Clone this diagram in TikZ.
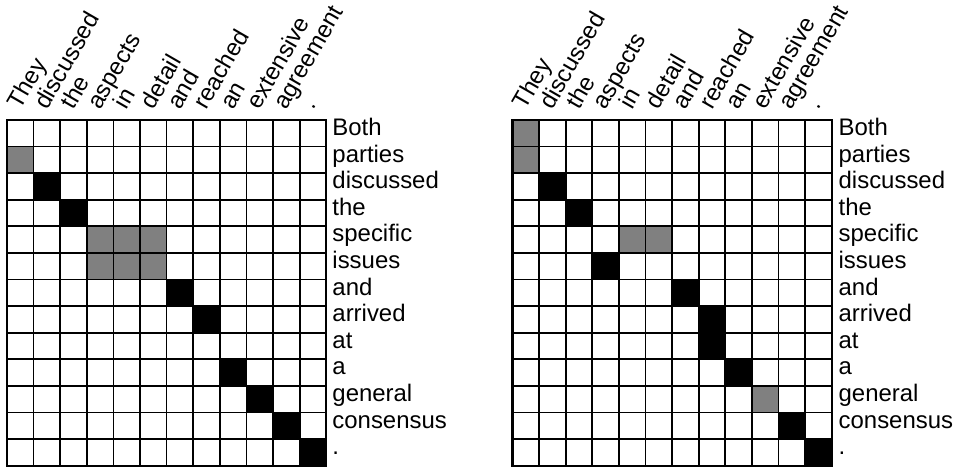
\documentclass[tikz,border=0pt]{standalone}
\usepackage{fontspec}
\setmainfont{Liberation Sans}
\usepackage{tikz}

\begin{document}
\begin{tikzpicture}[x=0.5cm,y=0.5cm,font=\fontsize{12.8}{15}\selectfont,
  rowlab/.style={anchor=base west,inner sep=0pt},
  collab/.style={anchor=base west,inner sep=0pt,rotate=60},
  soft/.style={fill=black!50},
  hard/.style={fill=black},
  gridlines/.style={line width=0.95pt,step=1}]
  \useasboundingbox (-0.263,4.51) rectangle (35.9,-13.16);
  % left matrix
  \foreach \r/\c in {1/0,4/3,4/4,4/5,5/3,5/4,5/5}
    \fill[soft] (\c,-\r) rectangle ++(1,-1);
  \foreach \r/\c in {2/1,3/2,6/6,7/7,9/8,10/9,11/10,12/11}
    \fill[hard] (\c,-\r) rectangle ++(1,-1);
  \draw[gridlines] (0,0) grid (12,-13);
  \draw[line width=1.2pt] (0,0) rectangle (12,-13);
  % right matrix
  \foreach \r/\c in {0/0,1/0,4/4,4/5,10/9}
    \fill[soft] (19+\c,-\r) rectangle ++(1,-1);
  \foreach \r/\c in {2/1,3/2,5/3,6/6,7/7,8/7,9/8,11/10,12/11}
    \fill[hard] (19+\c,-\r) rectangle ++(1,-1);
  \draw[gridlines] (19,0) grid (31,-13);
  \draw[line width=1.2pt] (19,0) rectangle (31,-13);
  % words
  \foreach \w [count=\i from 0] in {Both,parties,discussed,the,specific,issues,and,arrived,at,a,general,consensus,.}{
    \node[rowlab] (lrow\i) at (12.22,-\i-0.58) {\w};
    \node[rowlab] (rrow\i) at (31.25,-\i-0.58) {\w};
  }
  \foreach \w [count=\i from 0] in {They,discussed,the,aspects,in,detail,and,reached,an,extensive,agreement,.}{
    \node[collab] (lcol\i) at (\i+0.5,0.34) {\w};
    \node[collab] (rcol\i) at (\i+19.5,0.34) {\w};
  }
\end{tikzpicture}
\end{document}
